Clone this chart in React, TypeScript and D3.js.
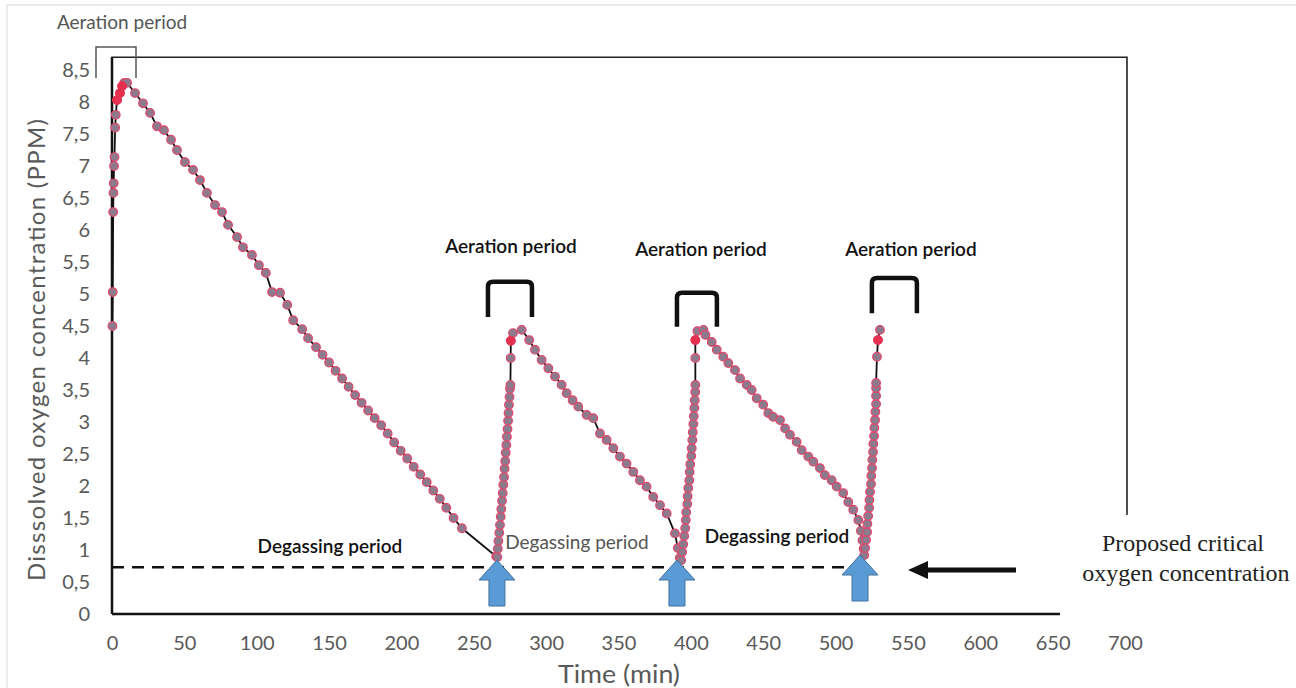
import * as d3 from 'd3';
import { useEffect, useRef } from 'react';

// time (min), dissolved oxygen (ppm)
const rise1: [number, number][] = [
  [0.3, 4.5], [0.5, 5.03], [0.8, 6.28], [1.0, 6.58], [1.2, 6.73], [1.4, 7.0], [1.7, 7.14],
  [2.2, 7.6], [2.6, 7.8], [3.5, 8.03], [5.5, 8.14], [7, 8.25], [8.5, 8.3],
];
const decline1: [number, number][] = [
  [10.4, 8.3], [15.9, 8.14], [21.4, 7.98], [26.3, 7.83], [31.1, 7.62], [35.9, 7.56], [40.8, 7.41],
  [44.9, 7.25], [50.4, 7.06], [56.0, 6.94], [60.8, 6.78], [65.6, 6.58], [71.2, 6.39], [76.0, 6.28],
  [80.2, 6.08], [86.4, 5.89], [90.5, 5.73], [96.7, 5.61], [101.5, 5.45], [106.3, 5.33], [110.6, 5.03],
  [116.1, 5.02], [121.1, 4.83], [125.2, 4.59], [131.4, 4.45], [135.5, 4.31], [141.0, 4.17],
  [145.5, 4.05], [150, 3.93], [154.5, 3.8], [159, 3.68], [163.5, 3.55], [168, 3.42], [172.5, 3.3],
  [177, 3.18], [181.5, 3.06], [186, 2.95], [190.5, 2.82], [195, 2.68], [199.5, 2.55], [204, 2.43],
  [208.5, 2.3], [213, 2.18], [217.5, 2.06], [222, 1.93], [226.5, 1.8], [231, 1.66], [236, 1.5],
  [241.8, 1.34], [265.5, 0.9],
];
const rise2: [number, number][] = [
  [266.2, 0.89], [266.6, 1.02], [267.0, 1.14], [267.6, 1.27], [268.1, 1.39], [268.6, 1.52],
  [269.0, 1.64], [269.5, 1.77], [270.0, 1.89], [270.4, 2.02], [270.9, 2.14], [271.3, 2.27],
  [271.7, 2.39], [272.1, 2.52], [272.5, 2.64], [272.9, 2.77], [273.3, 2.89], [273.7, 3.02],
  [274.0, 3.14], [274.3, 3.27], [274.7, 3.39], [275.0, 3.52], [275.3, 3.58], [275.5, 4.0],
  [275.6, 4.27], [277.1, 4.39],
];
const decline2: [number, number][] = [
  [283.1, 4.44], [288.3, 4.28], [292.3, 4.13], [296.9, 3.97], [301.5, 3.84], [306.1, 3.71],
  [310.7, 3.58], [314.2, 3.45], [318.3, 3.34], [322.2, 3.24], [328.0, 3.11], [332.6, 3.06],
  [337.2, 2.82], [341.8, 2.72], [346.4, 2.59], [351.0, 2.46], [355.6, 2.35], [360.2, 2.22],
  [364.8, 2.09], [369.4, 1.99], [374.0, 1.83], [378.7, 1.7], [383.3, 1.57], [389.0, 1.26],
  [391.0, 1.03], [392.4, 0.88],
];
const rise3: [number, number][] = [
  [393.3, 0.84], [394.0, 0.97], [394.7, 1.09], [395.4, 1.22], [396.1, 1.34], [396.5, 1.47],
  [396.8, 1.59], [397.5, 1.72], [397.8, 1.84], [398.2, 1.97], [398.9, 2.09], [399.2, 2.22],
  [399.6, 2.34], [400.3, 2.47], [400.6, 2.59], [401.0, 2.72], [401.3, 2.84], [401.7, 2.97],
  [402.0, 3.09], [402.4, 3.22], [402.7, 3.34], [403.0, 3.47], [403.1, 3.58], [403.1, 4.0],
  [403.1, 4.28], [404.5, 4.42], [408.7, 4.44],
];
const decline3: [number, number][] = [
  [410.1, 4.36], [414.4, 4.25], [417.9, 4.13], [422.4, 4.02], [425.9, 3.92], [430.5, 3.81],
  [434.0, 3.68], [438.6, 3.58], [442.0, 3.5], [445.5, 3.37], [450.0, 3.27], [453.5, 3.14],
  [456.9, 3.08], [461.6, 3.03], [465.1, 2.9], [468.5, 2.8], [473.1, 2.69], [476.6, 2.56],
  [481.1, 2.46], [484.6, 2.38], [489.2, 2.28], [492.6, 2.17], [497.3, 2.09], [500.8, 1.99],
  [505.3, 1.89], [508.8, 1.75], [512.2, 1.63], [515.7, 1.47], [517.5, 1.3], [518.6, 1.15],
  [519.4, 1.02], [519.8, 0.92],
];
const rise4: [number, number][] = [
  [520.4, 1.03], [521.1, 1.16], [521.8, 1.28], [522.0, 1.41], [522.5, 1.53], [523.2, 1.66],
  [523.4, 1.78], [523.8, 1.91], [524.5, 2.03], [524.7, 2.16], [525.2, 2.28], [525.4, 2.41],
  [525.9, 2.53], [526.1, 2.66], [526.6, 2.78], [526.8, 2.91], [527.3, 3.03], [527.5, 3.16],
  [528.0, 3.28], [528.0, 3.41], [528.0, 3.53], [528.0, 3.61], [528.6, 4.02], [529.3, 4.28],
  [530.7, 4.44],
];
// markers shown in red near each peak
const redPoints: [number, number][] = [
  [3.5, 8.03], [5.5, 8.14], [7, 8.25], [275.6, 4.27], [403.1, 4.28], [529.3, 4.28],
];

const xTicks = d3.range(0, 701, 50);
const yTicks = d3.range(0, 8.51, 0.5);
const criticalLevel = 0.73;
// arrows at each trough (time)
const troughTimes = [266, 390.4, 516.9];
// aeration brackets: [start, end, top value, bottom value]
const aerationBrackets: [number, number, number, number][] = [
  [259.8, 290.2, 5.19, 4.64],
  [390.4, 418.0, 5.02, 4.49],
  [525.1, 556.2, 5.25, 4.7],
];
// aeration labels: [time, value] of the text baseline centre
const aerationLabels: [number, number][] = [
  [275.7, 5.64], [407, 5.6], [552.1, 5.6],
];
// degassing labels: [time, value, colour, weight]
const degassingLabels: [number, number, string, number][] = [
  [150.6, 0.96, '#111', 600],
  [321.3, 1.02, '#555', 400],
  [459.5, 1.11, '#111', 600],
];

const font = 'Lato, "Open Sans", sans-serif';

const App = () => {
  const ref = useRef<SVGSVGElement>(null);

  useEffect(() => {
    const svg = d3.select(ref.current);
    svg.selectAll('*').remove();

    const x = d3.scaleLinear().domain([0, 700]).range([112, 1125]);
    const y = d3.scaleLinear().domain([0, 8.5]).range([614, 70]);
    const yTop = y(8.7);

    // outer border
    svg.append('path').attr('d', `M7,688 V5 H1296`).attr('fill', 'none').attr('stroke', '#d9d9d9');

    // frame
    svg.append('path')
      .attr('d', `M${x(0)},${y(0)} V${yTop} H1127 V515`)
      .attr('fill', 'none').attr('stroke', '#222').attr('stroke-width', 1.6);
    svg.append('line')
      .attr('x1', x(0)).attr('x2', 1060).attr('y1', y(0)).attr('y2', y(0))
      .attr('stroke', '#111').attr('stroke-width', 2.5);
    svg.append('line')
      .attr('x1', x(0)).attr('x2', x(0)).attr('y1', y(0)).attr('y2', yTop)
      .attr('stroke', '#111').attr('stroke-width', 2.5);

    const fmt = (d: d3.NumberValue) => String(d).replace('.', ',');

    const yAxis = svg.append('g')
      .attr('transform', `translate(${x(0)},0)`)
      .call(d3.axisLeft(y).tickValues(yTicks).tickSize(0).tickPadding(22).tickFormat(fmt));
    yAxis.select('.domain').remove();
    yAxis.selectAll('text').attr('font-size', 20).attr('font-family', font).attr('fill', '#595959');

    const xAxis = svg.append('g')
      .attr('transform', `translate(0,${y(0)})`)
      .call(d3.axisBottom(x).tickValues(xTicks).tickSize(0).tickPadding(22).tickFormat(fmt));
    xAxis.select('.domain').remove();
    xAxis.selectAll('text').attr('font-size', 20).attr('font-family', font).attr('fill', '#595959');

    svg.append('text')
      .attr('x', 619).attr('y', 683)
      .attr('text-anchor', 'middle').attr('font-family', font).attr('font-size', 25)
      .attr('textLength', 122).attr('lengthAdjust', 'spacingAndGlyphs')
      .attr('fill', '#595959').text('Time (min)');
    svg.append('text')
      .attr('transform', `translate(45,350) rotate(-90)`)
      .attr('text-anchor', 'middle').attr('font-family', font).attr('font-size', 24)
      .attr('textLength', 462).attr('lengthAdjust', 'spacing')
      .attr('fill', '#595959').text('Disssolved oxygen concentration (PPM)');

    // critical level
    svg.append('line')
      .attr('x1', x(0)).attr('x2', 855).attr('y1', y(criticalLevel)).attr('y2', y(criticalLevel))
      .attr('stroke', '#111').attr('stroke-width', 2.5).attr('stroke-dasharray', '12 8');

    // data
    const series = [...rise1, ...decline1, ...rise2, ...decline2, ...rise3, ...decline3, ...rise4];
    const line = d3.line<[number, number]>().x(d => x(d[0])).y(d => y(d[1]));
    svg.append('path').datum(series)
      .attr('d', line).attr('fill', 'none').attr('stroke', '#111').attr('stroke-width', 1.8);

    svg.append('g').selectAll('circle').data(series).enter().append('circle')
      .attr('cx', d => x(d[0])).attr('cy', d => y(d[1])).attr('r', 4.3)
      .attr('fill', '#8d7a8c').attr('stroke', '#e2476b').attr('stroke-width', 1.2);
    svg.append('g').selectAll('circle').data(redPoints).enter().append('circle')
      .attr('cx', d => x(d[0])).attr('cy', d => y(d[1])).attr('r', 4.3)
      .attr('fill', '#e5304f').attr('stroke', '#e5304f').attr('stroke-width', 1);

    // blue arrows at troughs
    troughTimes.forEach((t, i) => {
      const cx = x(t);
      const tip = i === 2 ? 555 : 560;
      const bottom = tip + 46;
      const p = `M${cx},${tip} L${cx + 18},${tip + 20} L${cx + 8},${tip + 20} L${cx + 8},${bottom} ` +
        `L${cx - 8},${bottom} L${cx - 8},${tip + 20} L${cx - 18},${tip + 20} Z`;
      svg.append('path').attr('d', p).attr('fill', '#5b9bd5').attr('stroke', '#41719c').attr('stroke-width', 1);
    });

    // black arrow pointing at the critical line
    svg.append('line').attr('x1', 924).attr('x2', 1016).attr('y1', 570).attr('y2', 570)
      .attr('stroke', '#111').attr('stroke-width', 5);
    svg.append('path').attr('d', 'M908,570 L928,561 L928,579 Z').attr('fill', '#111');

    svg.append('text').attr('x', 1183).attr('y', 551).attr('text-anchor', 'middle')
      .attr('font-family', '"Liberation Serif", serif').attr('font-size', 24).attr('fill', '#222')
      .text('Proposed critical');
    svg.append('text').attr('x', 1186).attr('y', 581).attr('text-anchor', 'middle')
      .attr('font-family', '"Liberation Serif", serif').attr('font-size', 24).attr('fill', '#222')
      .text('oxygen concentration');

    // aeration brackets
    svg.append('path').attr('d', `M96,78 V47 H136 V78`).attr('fill', 'none')
      .attr('stroke', '#555').attr('stroke-width', 1.5);
    svg.append('text').attr('x', 122).attr('y', 29).attr('text-anchor', 'middle')
      .attr('font-family', font).attr('font-size', 19).attr('fill', '#555').text('Aeration period');

    aerationBrackets.forEach(([a, b, top, bot]) => {
      const x0 = x(a), x1 = x(b), y0 = y(top), y1 = y(bot);
      svg.append('path')
        .attr('d', `M${x0},${y1} V${y0 + 5} Q${x0},${y0} ${x0 + 5},${y0} H${x1 - 5} Q${x1},${y0} ${x1},${y0 + 5} V${y1}`)
        .attr('fill', 'none').attr('stroke', '#111').attr('stroke-width', 4.5);
    });
    aerationLabels.forEach(([t, v]) => {
      svg.append('text').attr('x', x(t)).attr('y', y(v)).attr('text-anchor', 'middle')
        .attr('font-family', font).attr('font-size', 19).attr('font-weight', 600).attr('fill', '#111')
        .text('Aeration period');
    });

    degassingLabels.forEach(([t, v, c, w]) => {
      svg.append('text').attr('x', x(t)).attr('y', y(v)).attr('text-anchor', 'middle')
        .attr('font-family', font).attr('font-size', 19).attr('font-weight', w)
        .attr('fill', c).text('Degassing period');
    });
  }, []);

  return (
    <svg ref={ref} width={1296} height={688}
      style={{ position: 'absolute', left: 0, top: 0, background: '#fff' }} />
  );
};

export default App;
